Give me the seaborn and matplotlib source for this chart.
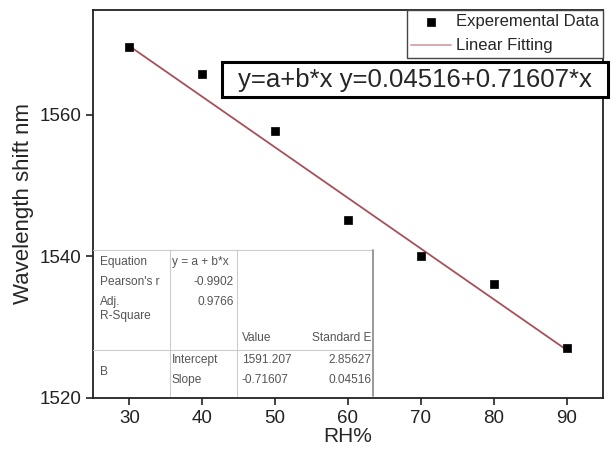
import matplotlib
matplotlib.use("Agg")
import matplotlib.pyplot as plt
import seaborn as sns
import pandas as pd
from matplotlib.lines import Line2D
from matplotlib.patches import Rectangle

rh = [30, 40, 50, 60, 70, 80, 90]
shift = [1569.6, 1565.8, 1557.7, 1545.2, 1540.1, 1536.1, 1527.1]
fit_x = [30, 90]
fit_y = [1569.7, 1526.8]
xticks = [30, 40, 50, 60, 70, 80, 90]
yticks = [1520, 1540, 1560]
equation_text = "y=a+b*x y=0.04516+0.71607*x"

sns.set_style("ticks")
plt.rcParams['font.family'] = ['Liberation Sans', 'DejaVu Sans']

W, H = 613, 457
fig = plt.figure(figsize=(W / 100, H / 100), dpi=100)
ax = fig.add_axes([93 / W, 1 - 398 / H, (603 - 93) / W, (398 - 10) / H])

df = pd.DataFrame({"RH": rh, "shift": shift})
dfit = pd.DataFrame({"RH": fit_x, "shift": fit_y})
sns.lineplot(data=dfit, x="RH", y="shift", ax=ax, color="#a8505a", lw=1.3,
             label="Linear Fitting", zorder=2)
sns.scatterplot(data=df, x="RH", y="shift", ax=ax, marker="s", s=40,
                color="black", edgecolor="black", label="Experemental Data", zorder=3)

ax.set_xlim(25, 95)
ax.set_ylim(1520, 1574.8)
ax.set_xticks(xticks)
ax.set_yticks(yticks)
ax.tick_params(axis="both", labelsize=13.5, direction="out", length=5, width=1.2, colors="#222222")
for s in ax.spines.values():
    s.set_linewidth(1.3)
    s.set_color("#222222")
ax.set_xlabel("RH%", fontsize=15, labelpad=0)
ax.set_ylabel("Wavelength shift nm", fontsize=16, labelpad=4)

h, l = ax.get_legend_handles_labels()
leg = ax.legend([h[1], Line2D([], [], color="#d8a0a8", lw=1.3)], [l[1], l[0]],
                loc="upper right", fontsize=12, frameon=True, fancybox=False,
                edgecolor="#444444", framealpha=1, borderaxespad=0.0,
                handlelength=2.4, borderpad=0.25, labelspacing=0.55, handletextpad=0.3)
leg.get_frame().set_linewidth(1.0)

def px(x, y):
    return x / W, 1 - y / H

# equation box
fig.add_artist(Rectangle(px(222, 97), (608 - 222) / W, 35 / H, transform=fig.transFigure,
                         fc="white", ec="black", lw=2.2, zorder=9))
fig.text(*px(415, 80), equation_text, fontsize=18.5, va="center", ha="center", zorder=10)

# stats table
tcol = "#555555"
lcol = "#cccccc"
fs = 8.6
def hline(x0, x1, y, c=lcol, lw=0.8):
    fig.add_artist(Line2D([x0 / W, x1 / W], [1 - y / H, 1 - y / H], color=c, lw=lw))
def vline(x, y0, y1, c=lcol, lw=0.8):
    fig.add_artist(Line2D([x / W, x / W], [1 - y0 / H, 1 - y1 / H], color=c, lw=lw))

hline(93, 373, 250)
hline(93, 373, 350)
vline(170, 250, 396)
vline(237, 250, 396)
vline(373, 250, 396, c="#888888", lw=1.2)

def t(x, y, s, ha="left"):
    fig.text(*px(x, y), s, fontsize=fs, color=tcol, ha=ha, va="center")

t(100, 262, "Equation")
t(100, 282, "Pearson's r")
t(100, 302, "Adj.")
t(100, 316, "R-Square")
t(100, 372, "B")
t(172, 262, "y = a + b*x")
t(234, 282, "-0.9902", ha="right")
t(234, 302, "0.9766", ha="right")
t(242, 338, "Value")
t(371, 338, "Standard E", ha="right")
t(172, 360, "Intercept")
t(172, 380, "Slope")
t(242, 360, "1591.207")
t(242, 380, "-0.71607")
t(371, 360, "2.85627", ha="right")
t(371, 380, "0.04516", ha="right")

fig.savefig("out.png", dpi=100)
